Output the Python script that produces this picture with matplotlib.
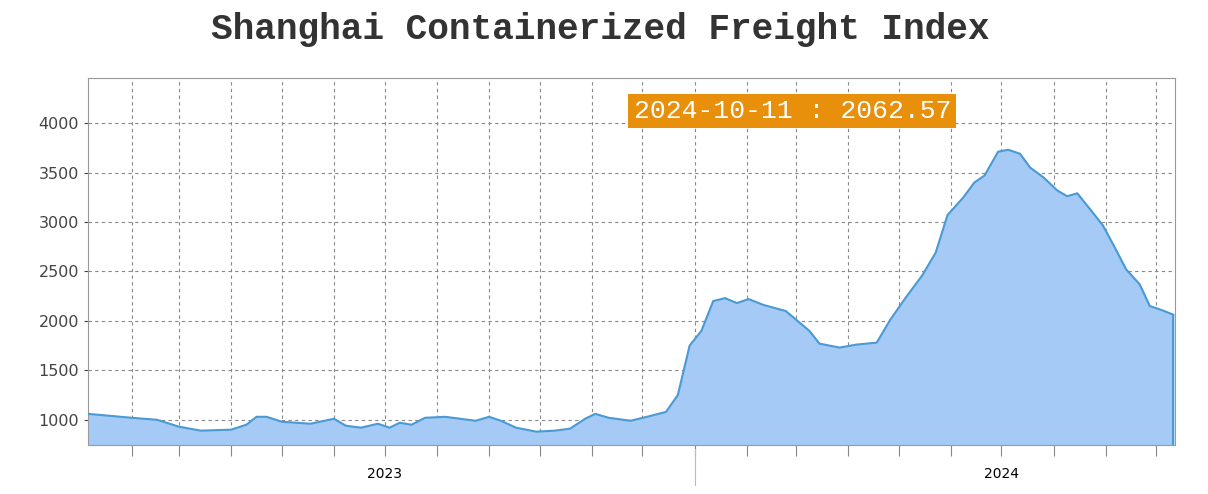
import matplotlib
matplotlib.use("Agg")
import matplotlib.pyplot as plt
import matplotlib.dates as mdates
import numpy as np
import datetime as dt

dates = ["2023-01-06","2023-02-01","2023-02-16","2023-03-01","2023-03-14","2023-04-01","2023-04-10","2023-04-16",
"2023-04-22","2023-05-01","2023-05-18","2023-06-01","2023-06-08","2023-06-17","2023-06-27","2023-07-04","2023-07-10",
"2023-07-17","2023-07-25","2023-08-06","2023-08-24","2023-09-01","2023-09-08","2023-09-17","2023-09-29","2023-10-10",
"2023-10-19","2023-10-28","2023-11-03","2023-11-11","2023-11-24","2023-12-06","2023-12-15","2023-12-22","2023-12-29",
"2024-01-05","2024-01-12","2024-01-19","2024-01-26","2024-02-02","2024-02-11","2024-02-24","2024-03-02","2024-03-09",
"2024-03-15","2024-03-27","2024-04-06","2024-04-18","2024-04-26","2024-05-05","2024-05-15","2024-05-23","2024-05-30",
"2024-06-08","2024-06-15","2024-06-21","2024-06-29","2024-07-05","2024-07-12","2024-07-18","2024-07-26","2024-08-03",
"2024-08-09","2024-08-15","2024-08-23","2024-08-30","2024-09-06","2024-09-13","2024-09-21","2024-09-27","2024-10-04",
"2024-10-11"]
values = [1060,1020,1000,930,890,900,950,1030,1030,980,960,1010,940,920,960,920,970,950,1020,1030,990,1030,990,920,880,
890,910,1010,1060,1020,990,1040,1080,1250,1750,1900,2200,2230,2180,2220,2160,2100,2000,1900,1770,1730,1760,1780,2010,
2230,2460,2690,3070,3240,3400,3470,3710,3730,3690,3550,3450,3320,3260,3290,3120,2970,2750,2520,2370,2150,2110,2062.57]
yticks = [1000,1500,2000,2500,3000,3500,4000]
year_labels = ["2023","2024"]
title = "Shanghai Containerized Freight Index"
annot = "2024-10-11 : 2062.57"

x = [dt.datetime.strptime(d, "%Y-%m-%d") for d in dates]
fig = plt.figure(figsize=(12.08, 4.94), dpi=100)
ax = fig.add_axes([0.0728, 0.0992, 0.8999, 0.7428])
ax.fill_between(x, values, 0, color="#A5CAF6", zorder=2)
ax.plot(x, values, color="#4A9AD4", lw=1.5, zorder=3)
ax.vlines(x[-1], 0, values[-1], color="#4A9AD4", lw=1.5, zorder=3)
ax.set_xlim(x[0], x[-1] + dt.timedelta(days=1))
ax.set_ylim(745, 4455)
ax.set_yticks(yticks)
ax.tick_params(axis="y", labelsize=11.5, colors="#444444", length=3)
ax.xaxis.set_major_locator(mdates.MonthLocator())
ax.xaxis.set_major_formatter(plt.NullFormatter())
ax.tick_params(axis="x", length=8, direction="out", pad=0, color="#888888")
ax.grid(True, ls=(0, (3, 3)), color="#888888", lw=0.8, zorder=1)
for s in ax.spines.values():
    s.set_color("#999999")
for yl in year_labels:
    ax.text(dt.datetime(int(yl), 7, 1), -0.06, yl, transform=ax.get_xaxis_transform(),
            ha="center", va="top", fontsize=10)
ax.plot([dt.datetime(2024, 1, 1)] * 2, [-0.01, -0.11], transform=ax.get_xaxis_transform(),
        color="#bbbbbb", lw=0.8, clip_on=False)
ax.text(0.502, 0.91, annot, transform=ax.transAxes, ha="left", va="center", fontsize=19,
        family="Liberation Mono", color="white",
        bbox=dict(boxstyle="square,pad=0.2", fc="#E8900C", ec="none"), zorder=5)
fig.suptitle(title, x=0.497, y=0.975, fontsize=26, family="Liberation Mono", weight="bold", color="#333333")
fig.savefig("out.png", dpi=100, facecolor="white")
